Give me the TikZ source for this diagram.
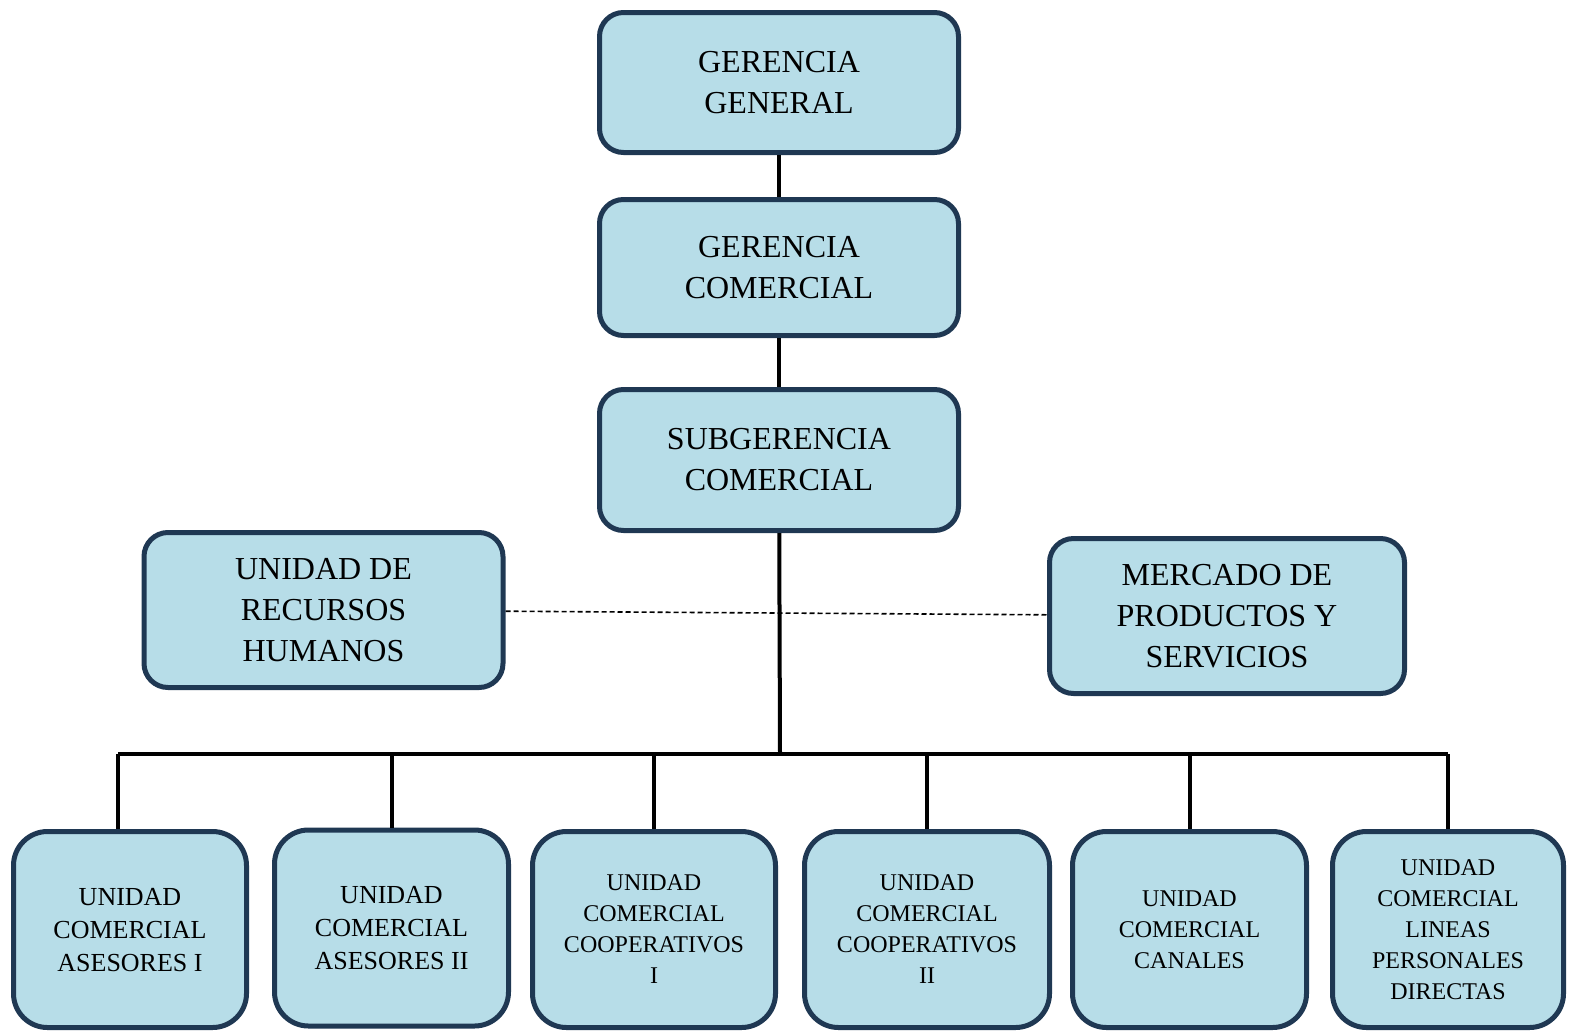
\documentclass[tikz,border=0pt]{standalone}
\usepackage{fontspec}
\setmainfont{Liberation Serif}
\usetikzlibrary{positioning}
\definecolor{boxfill}{HTML}{B7DDE8}
\definecolor{boxline}{HTML}{1F3853}
\tikzstyle{block} = [rectangle, rounded corners=12pt, draw=boxline, line width=2.5pt,
    fill=boxfill, align=center, font=\fontsize{16}{20.5}\selectfont,
    minimum width=179.5pt, minimum height=70pt, inner sep=0pt]
\tikzstyle{side} = [block, minimum height=77.5pt, text depth=0pt]
\tikzstyle{unit} = [block, rounded corners=17pt, minimum height=98pt, text depth=0pt,
    font=\fontsize{12}{15.5}\selectfont]
\tikzstyle{bigunit} = [unit, font=\fontsize{13}{16.5}\selectfont]
\tikzstyle{line} = [draw, line width=2pt]
\tikzstyle{link} = [draw, line width=0.8pt, dash pattern=on 2.5pt off 1.5pt]

\begin{document}
\begin{tikzpicture}[x=0.5pt, y=-0.5pt]
 \useasboundingbox (0,0) rectangle (1569,1034);
 % Place nodes
    \node [block] (gg) at (779,82.5) {GERENCIA\\GENERAL};
    \node [block, below of=gg, node distance=92.5pt, minimum height=68pt] (gc) {GERENCIA\\COMERCIAL};
    \node [block, below of=gc, node distance=96.25pt, minimum height=70.5pt] (sg) {SUBGERENCIA\\COMERCIAL};
    \node [side] (rh) at (323.5,610) {UNIDAD DE\\RECURSOS\\HUMANOS};
    \node [side, minimum width=177.5pt] (mp) at (1227,616) {MERCADO DE\\PRODUCTOS Y\\SERVICIOS};
    \node [bigunit, minimum width=116.5pt] (u1) at (130,929.5) {UNIDAD\\COMERCIAL\\ASESORES I};
    \node [bigunit, minimum width=117pt] (u2) at (391.5,928) {UNIDAD\\COMERCIAL\\ASESORES II};
    \node [unit, minimum width=121.5pt] (u3) at (654,929.5) {UNIDAD\\COMERCIAL\\COOPERATIVOS\\I};
    \node [unit, minimum width=122.5pt] (u4) at (927,929.5) {UNIDAD\\COMERCIAL\\COOPERATIVOS\\II};
    \node [unit, minimum width=117pt] (u5) at (1189.5,929.5) {UNIDAD\\COMERCIAL\\CANALES};
    \node [unit, minimum width=115.5pt] (u6) at (1448,929.5) {UNIDAD\\COMERCIAL\\LINEAS\\PERSONALES\\DIRECTAS};
    \coordinate (bus) at (780,754);
    \coordinate (d1) at ([xshift=-6pt]u1.north);

    % Draw edges
   \path [line] (gg) -- (gc); \path [line] (gc) -- (sg);
   \path [line] (sg) -- (bus);
   \path [line] (d1 |- bus) -- (u6.north |- bus);
   \path [line] (d1 |- bus) -- (d1);
   \foreach \u in {u2,u3,u4,u5,u6}
     \path [line] (\u.north |- bus) -- (\u.north);
   \path [link] (rh) -- (mp);
\end{tikzpicture}
\end{document}
